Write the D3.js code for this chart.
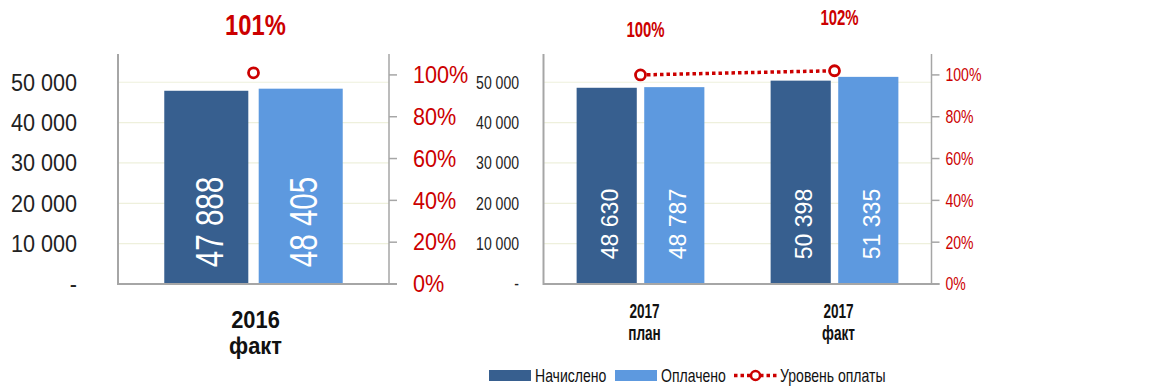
<!DOCTYPE html>
<html>
<head>
<meta charset="utf-8">
<script src="https://cdn.jsdelivr.net/npm/d3@7"></script>
<style>
  html, body { margin: 0; padding: 0; background: #fff; }
  svg { display: block; }
  text { font-family: "Liberation Sans", Arial, sans-serif; }
</style>
</head>
<body>
<svg id="chart" width="1164" height="389"></svg>
<script>
// Series and categories
const seriesNames = ["Начислено", "Оплачено"];
const levelName = "Уровень оплаты";

const leftCategories = [["2016", "факт"]];
const leftAccrued = [47888];
const leftPaid = [48405];
const leftLevel = [1.01];

const rightCategories = [["2017", "план"], ["2017", "факт"]];
const rightAccrued = [48630, 50398];
const rightPaid = [48787, 51335];
const rightLevel = [1.00, 1.02];

const valueTicks = [0, 10000, 20000, 30000, 40000, 50000];
const pctTicks = [0, 0.2, 0.4, 0.6, 0.8, 1.0];

const colors = { accrued: "#375f8f", paid: "#5d99df", red: "#cc0000", axis: "#a6a6a6", grid: "#eef0dc", text: "#1a1a1a" };

const svg = d3.select("#chart");
const fmtNum = v => v === 0 ? "-" : d3.format(",")(v).replace(/,/g, " ");
const fmtPct = d3.format(".0%");

// text helper: horizontally condensed text placed at (x, y)
function label(g, x, y, str, opt) {
  const sx = opt.sx || 1;
  const t = g.append("text")
    .attr("transform", `translate(${x},${y}) ${opt.rotate ? "rotate(" + opt.rotate + ")" : ""} scale(${sx},1)`)
    .attr("text-anchor", opt.anchor || "start")
    .attr("font-size", opt.size)
    .attr("font-weight", opt.bold ? "bold" : "normal")
    .attr("fill", opt.fill || colors.text)
    .text(str);
  if (opt.dy) t.attr("dy", opt.dy);
  return t;
}

function panel(cfg) {
  const g = svg.append("g");
  const y = d3.scaleLinear().domain([0, 57000]).range([284, 54]);
  const yp = d3.scaleLinear().domain([0, 1.1]).range([284, 54]);
  const x0 = d3.scaleBand().domain(d3.range(cfg.categories.length)).range([cfg.left, cfg.right]);
  const x1 = d3.scaleBand().domain(seriesNames).range([0, x0.bandwidth()]).paddingInner(0.11).paddingOuter(0.49);

  // gridlines
  g.append("g").selectAll("line").data(valueTicks.slice(1)).join("line")
    .attr("x1", cfg.left).attr("x2", cfg.right)
    .attr("y1", d => y(d)).attr("y2", d => y(d))
    .attr("stroke", colors.grid).attr("stroke-width", 1.2);

  // bars
  const rows = cfg.categories.map((c, i) => ({ i, vals: [cfg.accrued[i], cfg.paid[i]] }));
  const grp = g.append("g").selectAll("g").data(rows).join("g")
    .attr("transform", d => `translate(${x0(d.i)},0)`);
  grp.selectAll("rect").data(d => d.vals.map((v, k) => ({ k, v }))).join("rect")
    .attr("x", d => x1(seriesNames[d.k]))
    .attr("width", x1.bandwidth())
    .attr("y", d => y(d.v))
    .attr("height", d => y(0) - y(d.v))
    .attr("fill", d => d.k === 0 ? colors.accrued : colors.paid);
  grp.each(function (d) {
    const gg = d3.select(this);
    d.vals.forEach((v, k) => {
      const cx = x1(seriesNames[k]) + x1.bandwidth() / 2 + cfg.barLabelShift;
      label(gg, cx, cfg.barLabelY, fmtNum(v), { rotate: -90, sx: cfg.barLabelSx, size: cfg.barLabelSize, anchor: "middle", fill: "#fff", dy: "0.36em" });
    });
  });

  // axes (lines)
  g.append("line").attr("x1", cfg.left).attr("x2", cfg.left).attr("y1", 54).attr("y2", 285).attr("stroke", colors.axis).attr("stroke-width", 2);
  g.append("line").attr("x1", cfg.right).attr("x2", cfg.right).attr("y1", 54).attr("y2", 285).attr("stroke", colors.axis).attr("stroke-width", 1.5);
  g.append("line").attr("x1", cfg.left).attr("x2", cfg.right + 8).attr("y1", 284).attr("y2", 284).attr("stroke", colors.axis).attr("stroke-width", 2);
  g.append("g").selectAll("line").data(pctTicks).join("line")
    .attr("x1", cfg.right).attr("x2", cfg.right + 8)
    .attr("y1", d => yp(d)).attr("y2", d => yp(d))
    .attr("stroke", colors.axis).attr("stroke-width", 1.5);

  // left value labels
  valueTicks.forEach(v => {
    label(g, cfg.valueLabelX, y(v), fmtNum(v), { anchor: "end", size: cfg.axisSize, sx: cfg.axisSx, dy: "0.36em", fill: "#222" });
  });
  // right percent labels
  pctTicks.forEach(v => {
    label(g, cfg.right + cfg.pctGap, yp(v), fmtPct(v), { anchor: "start", size: cfg.axisSize, sx: cfg.axisSx, dy: "0.36em", fill: colors.red });
  });

  // level line and markers
  const pts = cfg.level.map((v, i) => [x0(i) + x0.bandwidth() / 2, yp(v)]);
  if (pts.length > 1) {
    g.append("path").attr("d", d3.line()(pts))
      .attr("fill", "none").attr("stroke", colors.red).attr("stroke-width", 3.5).attr("stroke-dasharray", "3.5,3");
  }
  g.selectAll("circle").data(pts).join("circle")
    .attr("cx", d => d[0]).attr("cy", d => d[1]).attr("r", 5)
    .attr("fill", "#fff").attr("stroke", colors.red).attr("stroke-width", 2.8);

  // level value labels
  cfg.level.forEach((v, i) => {
    label(g, x0(i) + x0.bandwidth() / 2 + cfg.levelLabelShift, cfg.levelLabelY[i], fmtPct(v), { anchor: "middle", size: cfg.levelSize, sx: cfg.levelSx, bold: true, fill: colors.red });
  });

  // category labels
  cfg.categories.forEach((c, i) => {
    const cx = x0(i) + x0.bandwidth() / 2 + cfg.catShift;
    label(g, cx, cfg.catY[0], c[0], { anchor: "middle", size: cfg.catSize, sx: cfg.catSx, bold: true, fill: "#111" });
    label(g, cx, cfg.catY[1], c[1], { anchor: "middle", size: cfg.catSize, sx: cfg.catSx, bold: true, fill: "#111" });
  });
}

panel({
  categories: leftCategories, accrued: leftAccrued, paid: leftPaid, level: leftLevel,
  left: 118, right: 389,
  barLabelY: 222, barLabelSize: 38, barLabelSx: 0.78, barLabelShift: 3,
  valueLabelX: 77, axisSize: 23, axisSx: 0.94, pctGap: 24,
  levelLabelY: [35], levelLabelShift: 2, levelSize: 29, levelSx: 0.82,
  catY: [328, 354], catSize: 23, catSx: 0.95, catShift: 2
});

panel({
  categories: rightCategories, accrued: rightAccrued, paid: rightPaid, level: rightLevel,
  left: 543.5, right: 931.5,
  barLabelY: 224, barLabelSize: 23, barLabelSx: 1, barLabelShift: 3,
  valueLabelX: 519, axisSize: 18, axisSx: 0.78, pctGap: 14,
  levelLabelY: [37, 25], levelLabelShift: 5, levelSize: 22, levelSx: 0.68,
  catY: [318, 340], catSize: 20, catSx: 0.68, catShift: 4
});

// legend
const legend = svg.append("g");
const legendItems = [
  { name: seriesNames[0], type: "bar", color: colors.accrued, x: 489 },
  { name: seriesNames[1], type: "bar", color: colors.paid, x: 615 },
  { name: levelName, type: "line", color: colors.red, x: 734 }
];
legendItems.forEach(it => {
  if (it.type === "bar") {
    legend.append("rect").attr("x", it.x).attr("y", 370).attr("width", 42).attr("height", 11).attr("fill", it.color);
  } else {
    legend.append("line").attr("x1", it.x).attr("x2", it.x + 43).attr("y1", 375.5).attr("y2", 375.5)
      .attr("stroke", it.color).attr("stroke-width", 3.5).attr("stroke-dasharray", "3.5,3");
    legend.append("circle").attr("cx", it.x + 21.5).attr("cy", 375.5).attr("r", 4.5)
      .attr("fill", "#fff").attr("stroke", it.color).attr("stroke-width", 2.5);
  }
  label(legend, it.x + 46, 375.5, it.name, { size: 18, sx: 0.78, dy: "0.36em", fill: "#111" });
});
</script>
</body>
</html>
